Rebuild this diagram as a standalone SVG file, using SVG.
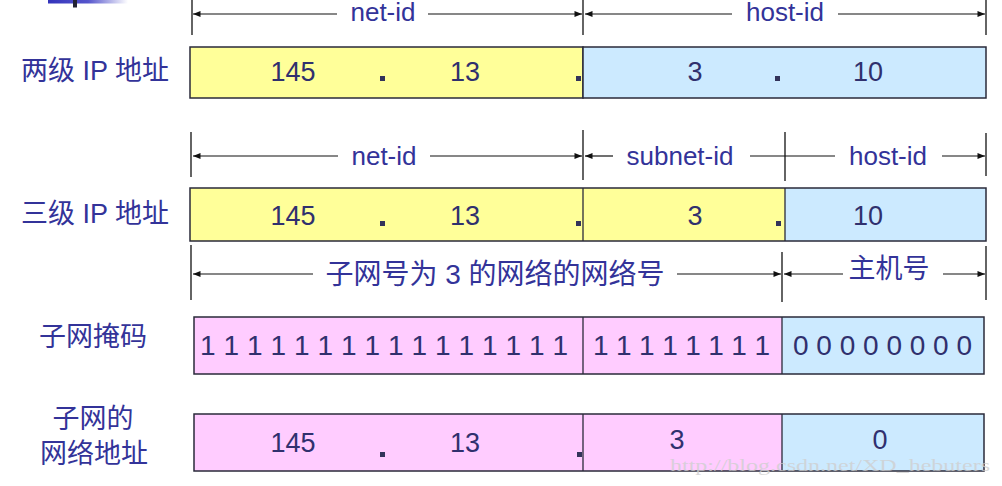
<svg xmlns="http://www.w3.org/2000/svg" width="1002" height="486" viewBox="0 0 1002 486">
<style>
.t{font-family:"Liberation Sans","Noto Sans CJK SC",sans-serif;fill:#333399;text-anchor:middle}
.lab{font-size:26px}
.cn{font-size:27px}
.num{font-size:27px;fill:#30306e}
.bits{font-size:28px;fill:#30306e;text-anchor:start}
.box{stroke:#2a2a3a;stroke-width:1.5}
.y{fill:#ffff99}.b{fill:#cceaff}.p{fill:#ffccff}
.div{stroke:#2a2a3a;stroke-width:1.3}
.tick{stroke:#111;stroke-width:1.3}
.ar{stroke:#111;stroke-width:1.2;fill:none}
.dot{fill:#33335a}
</style>
<defs>
<linearGradient id="bar" x1="0" x2="1" y1="0" y2="0">
<stop offset="0" stop-color="#3333bb"/><stop offset="0.5" stop-color="#5555cc"/><stop offset="1" stop-color="#ffffff"/>
</linearGradient>
<marker id="ah" viewBox="0 0 10 8" refX="10" refY="4" markerWidth="8" markerHeight="6" orient="auto-start-reverse" markerUnits="userSpaceOnUse">
<path d="M0,0 L10,4 L0,8 Z" fill="#111"/>
</marker>
</defs>
<rect width="1002" height="486" fill="#ffffff"/>
<g id="deco">
<rect x="48" y="0" width="80" height="3.5" fill="url(#bar)"/>
<rect x="73" y="0" width="4" height="7.5" fill="#222233"/>
</g>

<g id="connectors">
<line class="tick" x1="192" y1="0" x2="192" y2="35"/>
<line class="tick" x1="583" y1="0" x2="583" y2="35"/>
<line class="tick" x1="986" y1="0" x2="986" y2="35"/>
<line class="ar" x1="337" y1="14" x2="193" y2="14" marker-end="url(#ah)"/>
<line class="ar" x1="428" y1="14" x2="582" y2="14" marker-end="url(#ah)"/>
<line class="ar" x1="732" y1="14" x2="585" y2="14" marker-end="url(#ah)"/>
<line class="ar" x1="838" y1="14" x2="985" y2="14" marker-end="url(#ah)"/>
<line class="tick" x1="191" y1="132" x2="191" y2="177"/>
<line class="tick" x1="583" y1="130" x2="583" y2="180"/>
<line class="tick" x1="785" y1="132" x2="785" y2="181"/>
<line class="tick" x1="986" y1="133" x2="986" y2="176"/>
<line class="ar" x1="338" y1="156" x2="193" y2="156" marker-end="url(#ah)"/>
<line class="ar" x1="430" y1="156" x2="582" y2="156" marker-end="url(#ah)"/>
<line class="ar" x1="613" y1="156" x2="585" y2="156" marker-end="url(#ah)"/>
<line class="ar" x1="750" y1="156" x2="835" y2="156"/>
<line class="ar" x1="942" y1="156" x2="985" y2="156" marker-end="url(#ah)"/>
<line class="tick" x1="191" y1="245" x2="191" y2="300"/>
<line class="tick" x1="782" y1="252" x2="782" y2="302"/>
<line class="tick" x1="986" y1="246" x2="986" y2="300"/>
<line class="ar" x1="313" y1="274" x2="193" y2="274" marker-end="url(#ah)"/>
<line class="ar" x1="677" y1="274" x2="781" y2="274" marker-end="url(#ah)"/>
<line class="ar" x1="843" y1="274" x2="784" y2="274" marker-end="url(#ah)"/>
<line class="ar" x1="943" y1="274" x2="985" y2="274" marker-end="url(#ah)"/>
</g>

<g id="labels-top">
<text class="t lab" x="383" y="21">net-id</text>
<text class="t lab" x="785" y="21">host-id</text>
<text class="t lab" x="384" y="165">net-id</text>
<text class="t lab" x="680" y="165">subnet-id</text>
<text class="t lab" x="888" y="165">host-id</text>
<text class="t" style="font-size:28px" x="495" y="284">子网号为 3 的网络的网络号</text>
<text class="t cn" x="889" y="278">主机号</text>
</g>

<g id="left-labels">
<text class="t cn" x="95" y="80">两级 IP 地址</text>
<text class="t cn" x="95" y="223">三级 IP 地址</text>
<text class="t cn" x="93" y="346">子网掩码</text>
<text class="t cn" x="93" y="428">子网的</text>
<text class="t cn" x="94" y="463">网络地址</text>
</g>

<g id="row1">
<rect class="box y" x="190" y="47" width="393" height="51"/>
<rect class="box b" x="583" y="47" width="403" height="51"/>
<text class="t num" x="293" y="81">145</text>
<text class="t num" x="465" y="81">13</text>
<text class="t num" x="695" y="81">3</text>
<text class="t num" x="868" y="81">10</text>
<rect class="dot" x="380" y="76" width="5" height="5"/>
<rect class="dot" x="576" y="76" width="5" height="5"/>
<rect class="dot" x="775" y="76" width="5" height="5"/>
</g>

<g id="row2">
<rect class="y" x="190" y="188" width="595" height="53"/>
<rect class="b" x="785" y="188" width="201" height="53"/>
<rect class="box" fill="none" x="190" y="188" width="796" height="53"/>
<line class="div" x1="583" y1="188" x2="583" y2="241"/>
<line class="div" x1="785" y1="188" x2="785" y2="241"/>
<text class="t num" x="293" y="225">145</text>
<text class="t num" x="465" y="225">13</text>
<text class="t num" x="695" y="225">3</text>
<text class="t num" x="868" y="225">10</text>
<rect class="dot" x="380" y="221" width="5" height="5"/>
<rect class="dot" x="576" y="221" width="5" height="5"/>
<rect class="dot" x="776" y="221" width="5" height="5"/>
</g>

<g id="row-mask">
<rect class="p" x="194" y="317" width="588" height="57"/>
<rect class="b" x="782" y="317" width="202" height="57"/>
<rect class="box" fill="none" x="194" y="317" width="790" height="57"/>
<line class="div" x1="583" y1="317" x2="583" y2="374"/>
<line class="div" x1="782" y1="317" x2="782" y2="374"/>
<text class="t bits" x="200" y="355" textLength="368" lengthAdjust="spacing">1 1 1 1 1 1 1 1 1 1 1 1 1 1 1 1</text>
<text class="t bits" x="593" y="355" textLength="177" lengthAdjust="spacing">1 1 1 1 1 1 1 1</text>
<text class="t bits" x="793" y="355" textLength="179" lengthAdjust="spacing">0 0 0 0 0 0 0 0</text>
</g>

<g id="row-net">
<rect class="p" x="194" y="414" width="588" height="57"/>
<rect class="b" x="782" y="414" width="202" height="57"/>
<rect class="box" fill="none" x="194" y="414" width="790" height="57"/>
<line class="div" x1="583" y1="414" x2="583" y2="471"/>
<line class="div" x1="782" y1="414" x2="782" y2="471"/>
<text class="t num" x="293" y="452">145</text>
<text class="t num" x="465" y="452">13</text>
<text class="t num" x="677" y="449">3</text>
<text class="t num" x="880" y="449">0</text>
<rect class="dot" x="380" y="452" width="5" height="5"/>
<rect class="dot" x="577" y="452" width="5" height="5"/>
</g>

<text x="670" y="471" textLength="320" lengthAdjust="spacingAndGlyphs" style="font-family:'Liberation Serif',serif;font-size:17px;fill:#cfcfcf;fill-opacity:0.8">http://blog.csdn.net/XD_hebuters</text>
</svg>
